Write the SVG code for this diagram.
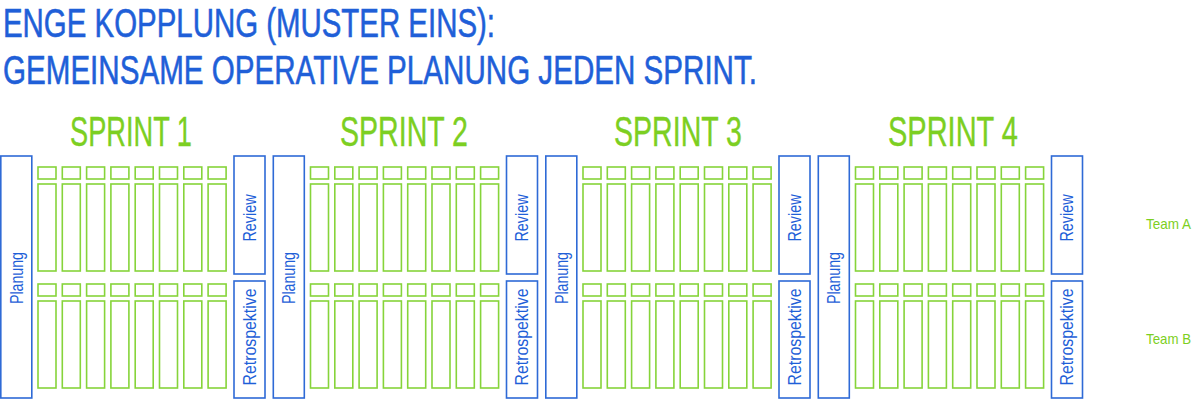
<svg xmlns="http://www.w3.org/2000/svg" xmlns:xlink="http://www.w3.org/1999/xlink" width="1200" height="406" viewBox="0 0 1200 406">
<style>
.title{font-family:"Liberation Sans",Arial,sans-serif;font-size:40px;fill:#1f5fd8;stroke:#1f5fd8;stroke-width:0.6;}
.sprint{font-family:"Liberation Sans",Arial,sans-serif;font-size:42px;fill:#7ccf22;stroke:#7ccf22;stroke-width:0.4;text-anchor:middle;}
.blue{fill:#fff;stroke:#2e6ad6;stroke-width:1.6;}
.green{fill:#fff;stroke:#86d43a;stroke-width:1.6;}
.lbl{font-family:"Liberation Sans",Arial,sans-serif;font-size:18px;fill:#1f5fd8;text-anchor:middle;dominant-baseline:central;}
.team{font-family:"Liberation Sans",Arial,sans-serif;font-size:15px;fill:#7ccf22;}
</style>
<defs>
<g id="cols">
<rect class="green" x="0" y="167" width="18" height="12"/><rect class="green" x="0" y="184" width="18" height="87"/>
<rect class="green" x="24.3" y="167" width="18" height="12"/><rect class="green" x="24.3" y="184" width="18" height="87"/>
<rect class="green" x="48.6" y="167" width="18" height="12"/><rect class="green" x="48.6" y="184" width="18" height="87"/>
<rect class="green" x="72.9" y="167" width="18" height="12"/><rect class="green" x="72.9" y="184" width="18" height="87"/>
<rect class="green" x="97.2" y="167" width="18" height="12"/><rect class="green" x="97.2" y="184" width="18" height="87"/>
<rect class="green" x="121.5" y="167" width="18" height="12"/><rect class="green" x="121.5" y="184" width="18" height="87"/>
<rect class="green" x="145.8" y="167" width="18" height="12"/><rect class="green" x="145.8" y="184" width="18" height="87"/>
<rect class="green" x="170.1" y="167" width="18" height="12"/><rect class="green" x="170.1" y="184" width="18" height="87"/>
</g>
<g id="sprintbody">
<g><rect class="blue" x="0.8" y="156" width="31" height="242"/><text class="lbl" transform="translate(16.5,278) rotate(-90)" textLength="52" lengthAdjust="spacingAndGlyphs">Planung</text></g>
<use xlink:href="#cols" x="38" y="0"/>
<use xlink:href="#cols" x="38" y="117"/>
<g><rect class="blue" x="234" y="156" width="31" height="118"/><text class="lbl" transform="translate(249.5,218) rotate(-90)" textLength="47" lengthAdjust="spacingAndGlyphs">Review</text></g>
<g><rect class="blue" x="234" y="281" width="31" height="117"/><text class="lbl" transform="translate(249.5,337) rotate(-90)" textLength="97" lengthAdjust="spacingAndGlyphs">Retrospektive</text></g>
</g>
</defs>
<g id="title">
<text class="title" x="3" y="37" textLength="492" lengthAdjust="spacingAndGlyphs">ENGE KOPPLUNG (MUSTER EINS):</text>
<text class="title" x="3" y="84" textLength="754" lengthAdjust="spacingAndGlyphs">GEMEINSAME OPERATIVE PLANUNG JEDEN SPRINT.</text>
</g>
<g id="sprint1">
<text class="sprint" x="131" y="146" textLength="122" lengthAdjust="spacingAndGlyphs">SPRINT 1</text>
<use xlink:href="#sprintbody" x="0" y="0"/>
</g>
<g id="sprint2">
<text class="sprint" x="404" y="146" textLength="128" lengthAdjust="spacingAndGlyphs">SPRINT 2</text>
<use xlink:href="#sprintbody" x="272.5" y="0"/>
</g>
<g id="sprint3">
<text class="sprint" x="678" y="146" textLength="128" lengthAdjust="spacingAndGlyphs">SPRINT 3</text>
<use xlink:href="#sprintbody" x="545" y="0"/>
</g>
<g id="sprint4">
<text class="sprint" x="953" y="146" textLength="130" lengthAdjust="spacingAndGlyphs">SPRINT 4</text>
<use xlink:href="#sprintbody" x="817.5" y="0"/>
</g>
<g id="teamA"><text class="team" x="1146" y="229" textLength="45" lengthAdjust="spacingAndGlyphs">Team A</text></g>
<g id="teamB"><text class="team" x="1146" y="344" textLength="45" lengthAdjust="spacingAndGlyphs">Team B</text></g>
<g id="connectors"></g>
</svg>
